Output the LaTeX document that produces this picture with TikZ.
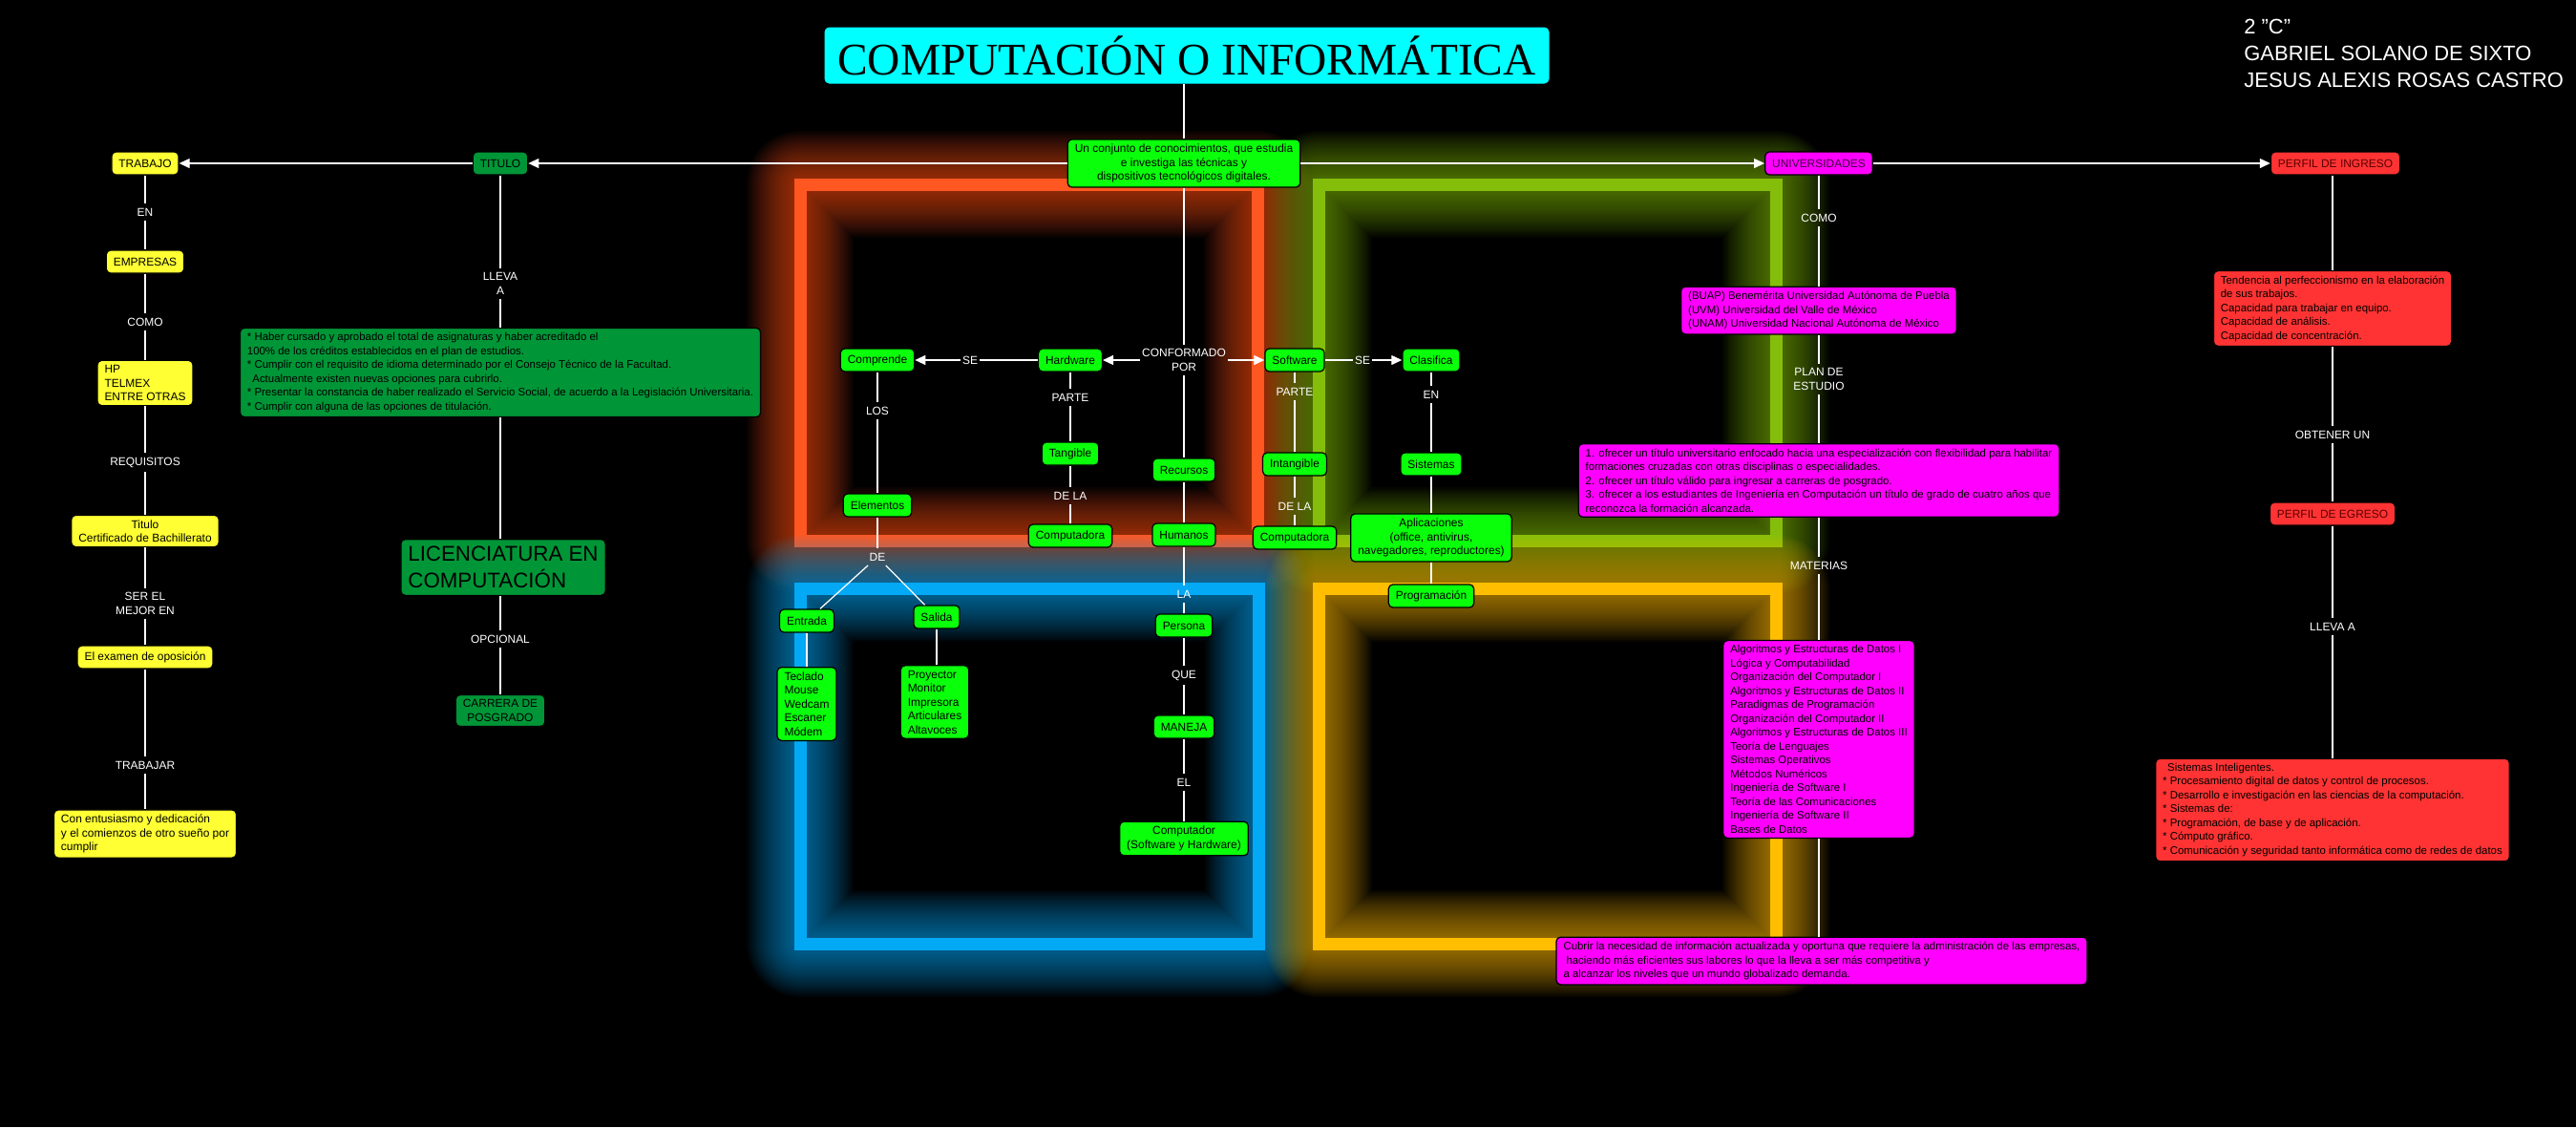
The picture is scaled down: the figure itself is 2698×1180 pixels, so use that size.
\documentclass[tikz,border=0pt]{standalone}
\usepackage{fontspec}
\setmainfont{Liberation Sans}
\newfontfamily\titlefont{Liberation Serif}
\usetikzlibrary{arrows.meta,positioning}
\definecolor{cLime}{RGB}{10,255,10}
\definecolor{cDark}{RGB}{0,150,55}
\definecolor{cYellow}{RGB}{255,255,51}
\definecolor{cPink}{RGB}{255,0,255}
\definecolor{cRed}{RGB}{255,51,51}
\definecolor{cCyan}{RGB}{0,255,255}
\definecolor{cPinkText}{RGB}{60,0,60}
\definecolor{cRedText}{RGB}{90,0,0}
\definecolor{wOrange}{RGB}{255,87,34}
\definecolor{wGreen}{RGB}{133,190,10}
\definecolor{wBlue}{RGB}{3,169,244}
\definecolor{wYellow}{RGB}{255,190,0}
\tikzset{
  box/.style={draw=black, line width=0.25mm, rounded corners=0.9mm, align=center, inner xsep=1.5mm, inner ysep=1mm, minimum height=4.8mm, text=black, font=\fontsize{6.8}{8.25}\selectfont},
  para/.style={box, align=left, font=\fontsize{6.5}{8.25}\selectfont},
  greenbox/.style={box, fill=cLime},
  darkbox/.style={box, fill=cDark},
  yellowbox/.style={box, fill=cYellow},
  pinkbox/.style={box, fill=cPink, text=cPinkText},
  redbox/.style={box, fill=cRed, text=cRedText},
  titlebox/.style={fill=cCyan, rounded corners=1mm, minimum width=151.8mm, minimum height=11.8mm, inner sep=0pt, font=\titlefont\fontsize{27}{30}\selectfont},
  bigbox/.style={darkbox, align=left, inner ysep=1.5mm, font=\fontsize{12.7}{15.9}\selectfont},
  lbl/.style={text=white, inner xsep=0.4mm, inner ysep=0.9mm, align=center, font=\fontsize{6.8}{8.25}\selectfont},
  conn/.style={draw=white, line width=0.25mm},
  arrow/.style={conn, -{Triangle[length=2.2mm,width=2mm]}, white},
  authors/.style={text=white, align=left, inner sep=0pt, font=\fontsize{12.5}{15.9}\selectfont}
}
\begin{document}
\begin{tikzpicture}[x=0.2mm, y=-0.2mm]
  \path[use as bounding box, fill=black] (0,0) rectangle (2698,1180);

  % glowing frames
  \foreach \col/\xa/\ya/\xb/\yb in {wOrange/838/193/1317/566, wGreen/1381/193/1860/566, wBlue/838/616/1318/988, wYellow/1381/616/1860/988} {
    \foreach \w in {16,20,...,112}
      \draw[\col, line width=\w*0.2mm, line join=round, opacity=0.035] (\xa,\ya) rectangle (\xb,\yb);
    \draw[\col, line width=2.6mm] (\xa,\ya) rectangle (\xb,\yb);
  }

  % heading
  \node[titlebox] (tema) at (1243,58) {COMPUTACIÓN O INFORMÁTICA};
  \node[authors, anchor=north west] (autores) at (2350,20) {2 "C"\\GABRIEL SOLANO DE SIXTO\\JESUS ALEXIS ROSAS CASTRO};
  \node[greenbox] (desc) at (1240,171) {Un conjunto de conocimientos, que estudia\\e investiga las técnicas y\\dispositivos tecnológicos digitales.};

  % trabajo column
  \node[yellowbox] (trabajo) at (152,171) {TRABAJO};
  \node[yellowbox] (empresas) at (152,274) {EMPRESAS};
  \node[yellowbox, align=left] (hp) at (152,401) {HP\\TELMEX\\ENTRE OTRAS};
  \node[yellowbox] (bachi) at (152,556) {Titulo\\Certificado de Bachillerato};
  \node[yellowbox] (examen) at (152,688) {El examen de oposición};
  \node[yellowbox, align=left] (suenio) at (152,873) {Con entusiasmo y dedicación\\y el comienzos de otro sueño por\\cumplir};
  \node[lbl] (lEn) at (152,222) {EN};
  \node[lbl] (lComo) at (152,337) {COMO};
  \node[lbl] (lReq) at (152,484) {REQUISITOS};
  \node[lbl] (lSer) at (152,632) {SER EL\\MEJOR EN};
  \node[lbl] (lTrab) at (152,801) {TRABAJAR};

  % titulo column
  \node[darkbox] (titulo) at (524,171) {TITULO};
  \node[darkbox, para] (requis) at (524,390) {* Haber cursado y aprobado el total de asignaturas y haber acreditado el\\100\% de los créditos establecidos en el plan de estudios.\\* Cumplir con el requisito de idioma determinado por el Consejo Técnico de la Facultad.\\\hspace{1.1mm}Actualmente existen nuevas opciones para cubrirlo.\\* Presentar la constancia de haber realizado el Servicio Social, de acuerdo a la Legislación Universitaria.\\* Cumplir con alguna de las opciones de titulación.};
  \node[bigbox] (licen) at (527,594) {LICENCIATURA EN\\COMPUTACIÓN};
  \node[darkbox] (carrera) at (524,744) {CARRERA DE\\POSGRADO};
  \node[lbl] (lLleva) at (524,297) {LLEVA\\A};
  \node[lbl] (lOpc) at (524,669) {OPCIONAL};

  % hardware / software
  \node[lbl] (conf) at (1240,377) {CONFORMADO\\POR};
  \node[greenbox] (comprende) at (919,377) {Comprende};
  \node[greenbox] (hardware) at (1121,377) {Hardware};
  \node[greenbox] (software) at (1356,377) {Software};
  \node[greenbox] (clasifica) at (1499,377) {Clasifica};
  \node[greenbox] (elementos) at (919,529) {Elementos};
  \node[lbl] (de) at (919,583) {DE};
  \node[greenbox] (entrada) at (845,650) {Entrada};
  \node[greenbox] (salida) at (981,646) {Salida};
  \node[greenbox, align=left] (teclado) at (845,737) {Teclado\\Mouse\\Wedcam\\Escaner\\Módem};
  \node[greenbox, align=left] (proyector) at (979,735) {Proyector\\Monitor\\Impresora\\Articulares\\Altavoces};
  \node[greenbox] (tangible) at (1121,475) {Tangible};
  \node[greenbox] (comphw) at (1121,561) {Computadora};
  \node[greenbox] (recursos) at (1240,492) {Recursos};
  \node[greenbox] (humanos) at (1240,560) {Humanos};
  \node[greenbox] (persona) at (1240,655) {Persona};
  \node[greenbox] (maneja) at (1240,761) {MANEJA};
  \node[greenbox] (computador) at (1240,878) {Computador\\(Software y Hardware)};
  \node[greenbox] (intangible) at (1356,486) {Intangible};
  \node[greenbox] (compsw) at (1356,563) {Computadora};
  \node[greenbox] (sistemas) at (1499,486) {Sistemas};
  \node[greenbox] (aplic) at (1499,563) {Aplicaciones\\(office, antivirus,\\navegadores, reproductores)};
  \node[greenbox] (progr) at (1499,624) {Programación};
  \node[lbl] (lSeHw) at (1016,377) {SE};
  \node[lbl] (lSeSw) at (1427,377) {SE};
  \node[lbl] (lLos) at (919,430) {LOS};
  \node[lbl] (lParteHw) at (1121,416) {PARTE};
  \node[lbl] (lDeLaHw) at (1121,519) {DE LA};
  \node[lbl] (lParteSw) at (1356,410) {PARTE};
  \node[lbl] (lDeLaSw) at (1356,530) {DE LA};
  \node[lbl] (lEnSw) at (1499,413) {EN};
  \node[lbl] (lLa) at (1240,622) {LA};
  \node[lbl] (lQue) at (1240,707) {QUE};
  \node[lbl] (lEl) at (1240,819) {EL};

  % universidades column
  \node[pinkbox] (univ) at (1905,171) {UNIVERSIDADES};
  \node[pinkbox, para] (buap) at (1905,325) {(BUAP) Benemérita Universidad Autónoma de Puebla\\(UVM) Universidad del Valle de México\\(UNAM) Universidad Nacional Autónoma de México};
  \node[pinkbox, para] (plan) at (1905,503) {1. ofrecer un título universitario enfocado hacia una especialización con flexibilidad para habilitar\\formaciones cruzadas con otras disciplinas o especialidades.\\2. ofrecer un título válido para ingresar a carreras de posgrado.\\3. ofrecer a los estudiantes de Ingeniería en Computación un título de grado de cuatro años que\\reconozca la formación alcanzada.};
  \node[pinkbox, para] (materias) at (1905,774) {Algoritmos y Estructuras de Datos I\\Lógica y Computabilidad\\Organización del Computador I\\Algoritmos y Estructuras de Datos II\\Paradigmas de Programación\\Organización del Computador II\\Algoritmos y Estructuras de Datos III\\Teoría de Lenguajes\\Sistemas Operativos\\Métodos Numéricos\\Ingeniería de Software I\\Teoría de las Comunicaciones\\Ingeniería de Software II\\Bases de Datos};
  \node[pinkbox, para] (cubrir) at (1908,1006) {Cubrir la necesidad de información actualizada y oportuna que requiere la administración de las empresas,\\\hspace{0.6mm}haciendo más eficientes sus labores lo que la lleva a ser más competitiva y\\a alcanzar los niveles que un mundo globalizado demanda.};
  \node[lbl] (lComoU) at (1905,228) {COMO};
  \node[lbl] (lPlan) at (1905,397) {PLAN DE\\ESTUDIO};
  \node[lbl] (lMat) at (1905,592) {MATERIAS};

  % perfil column
  \node[redbox] (ingreso) at (2446,171) {PERFIL DE INGRESO};
  \node[redbox, para] (tendencia) at (2443,323) {Tendencia al perfeccionismo en la elaboración\\de sus trabajos.\\Capacidad para trabajar en equipo.\\Capacidad de análisis.\\Capacidad de concentración.};
  \node[redbox] (egreso) at (2443,538) {PERFIL DE EGRESO};
  \node[redbox, para] (sistint) at (2443,848) {\hspace{1mm}Sistemas Inteligentes.\\* Procesamiento digital de datos y control de procesos.\\* Desarrollo e investigación en las ciencias de la computación.\\* Sistemas de:\\* Programación, de base y de aplicación.\\* Cómputo gráfico.\\* Comunicación y seguridad tanto informática como de redes de datos};
  \node[lbl] (lObt) at (2443,455) {OBTENER UN};
  \node[lbl] (lLlevaA) at (2443,656) {LLEVA A};

  % arrows
  \draw[conn] (desc) -- (desc |- tema.south);
  \draw[arrow] (desc) -- (titulo);
  \draw[arrow] (titulo) -- (trabajo);
  \draw[arrow] (desc) -- (univ);
  \draw[arrow] (univ) -- (ingreso);

  \draw[conn] (trabajo) -- (lEn) (lEn) -- (empresas);
  \draw[conn] (empresas) -- (lComo) (lComo) -- (hp);
  \draw[conn] (hp) -- (lReq) (lReq) -- (bachi);
  \draw[conn] (bachi) -- (lSer) (lSer) -- (examen);
  \draw[conn] (examen) -- (lTrab) (lTrab) -- (suenio);

  \draw[conn] (titulo) -- (lLleva) (lLleva) -- (requis);
  \draw[conn] (requis) -- (requis |- licen.north);
  \draw[conn] (carrera |- licen.south) -- (lOpc) (lOpc) -- (carrera);

  \draw[conn] (desc) -- (conf);
  \draw[conn] (conf) -- (recursos);
  \draw[arrow] (conf) -- (hardware);
  \draw[arrow] (conf) -- (software);
  \draw[conn] (hardware) -- (lSeHw);
  \draw[arrow] (lSeHw) -- (comprende);
  \draw[conn] (software) -- (lSeSw);
  \draw[arrow] (lSeSw) -- (clasifica);
  \draw[conn] (comprende) -- (lLos) (lLos) -- (elementos);
  \draw[conn] (elementos) -- (de);
  \draw[conn] (de) -- (entrada);
  \draw[conn] (de) -- (salida);
  \draw[conn] (entrada) -- (teclado);
  \draw[conn] (salida) -- (salida |- proyector.north);
  \draw[conn] (hardware) -- (lParteHw) (lParteHw) -- (tangible);
  \draw[conn] (tangible) -- (lDeLaHw) (lDeLaHw) -- (comphw);
  \draw[conn] (recursos) -- (humanos);
  \draw[conn] (humanos) -- (lLa) (lLa) -- (persona);
  \draw[conn] (persona) -- (lQue) (lQue) -- (maneja);
  \draw[conn] (maneja) -- (lEl) (lEl) -- (computador);
  \draw[conn] (software) -- (lParteSw) (lParteSw) -- (intangible);
  \draw[conn] (intangible) -- (lDeLaSw) (lDeLaSw) -- (compsw);
  \draw[conn] (clasifica) -- (lEnSw) (lEnSw) -- (sistemas);
  \draw[conn] (sistemas) -- (aplic);
  \draw[conn] (aplic) -- (progr);

  \draw[conn] (univ) -- (lComoU) (lComoU) -- (buap);
  \draw[conn] (buap) -- (lPlan) (lPlan) -- (plan);
  \draw[conn] (plan) -- (lMat) (lMat) -- (materias);
  \draw[conn] (materias) -- (materias |- cubrir.north);

  \draw[conn] (tendencia) -- (tendencia |- ingreso.south);
  \draw[conn] (tendencia) -- (lObt) (lObt) -- (egreso);
  \draw[conn] (egreso) -- (lLlevaA) (lLlevaA) -- (sistint);
\end{tikzpicture}
\end{document}
